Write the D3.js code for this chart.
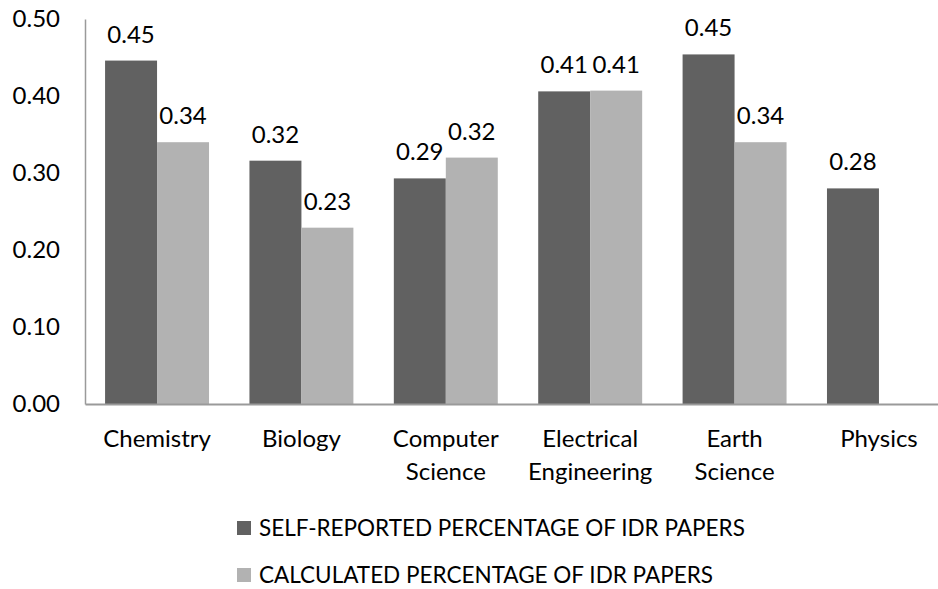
<!DOCTYPE html>
<html>
  <head>
    <meta charset="utf-8">
    <title>IDR papers by field</title>
    <script type="text/javascript" src="https://cdn.jsdelivr.net/npm/d3@7"></script>
    <style>
      body { margin: 0; background: #fff; }
      text { font-family: Lato, "Open Sans", sans-serif; fill: #000; }
    </style>
  </head>
  <body>
    <script type="text/javascript">
     // data
     let categories = ["Chemistry", "Biology", "Computer Science", "Electrical Engineering", "Earth Science", "Physics"];
     let seriesNames = ["SELF-REPORTED PERCENTAGE OF IDR PAPERS", "CALCULATED PERCENTAGE OF IDR PAPERS"];
     let selfReported = [0.446, 0.316, 0.293, 0.406, 0.454, 0.280];
     let calculated = [0.340, 0.229, 0.320, 0.407, 0.340, null];
     let yTicks = [0, 0.1, 0.2, 0.3, 0.4, 0.5];
     let colors = ["#616161", "#b2b2b2"];

     // set the canvas
     let w = 938;
     let h = 589;
     let margin = {top: 19, left: 85, bottom: 404, right: 951};

     let svg = d3.select("body").append("svg")
		 .attr("width", w)
		 .attr("height", h)
		 .style("display", "block");

     // table built from the arrays
     let rows = categories.map((c, i) => {
       return {cat: c, vals: [selfReported[i], calculated[i]]};
     });

     // scales
     let x0 = d3.scaleBand()
		.domain(categories)
		.range([margin.left, margin.right])
		.paddingInner(0.28)
		.paddingOuter(0.139);
     let x1 = d3.scaleBand()
		.domain([0, 1])
		.range([0, x0.bandwidth()]);
     let y = d3.scaleLinear()
	       .domain([0, 0.5])
	       .range([margin.bottom, margin.top]);

     let fmt = d3.format(".2f");

     // bars
     let groups = svg.selectAll("g.group")
		     .data(rows)
		     .enter()
		     .append("g")
		     .attr("class", "group")
		     .attr("transform", (d) => {return "translate(" + x0(d.cat) + ",0)";});

     let cells = groups.selectAll("g.cell")
		       .data((d) => {return d.vals.map((v, k) => {return {k: k, v: v};}).filter((e) => {return e.v != null;});})
		       .enter()
		       .append("g")
		       .attr("class", "cell");

     cells.append("rect")
	  .attr("x", (d) => {return x1(d.k);})
	  .attr("y", (d) => {return y(d.v);})
	  .attr("width", x1.bandwidth())
	  .attr("height", (d) => {return y(0) - y(d.v);})
	  .attr("fill", (d) => {return colors[d.k];});

     // value labels
     cells.append("text")
	  .attr("x", (d) => {return x1(d.k) + x1.bandwidth() / 2;})
	  .attr("y", (d) => {return y(d.v) - 18;})
	  .attr("text-anchor", "middle")
	  .style("font-size", "24px")
	  .text((d) => {return fmt(d.v);});

     // axes
     let yAxis = d3.axisLeft(y)
		   .tickValues(yTicks)
		   .tickSize(0)
		   .tickPadding(25)
		   .tickFormat(fmt);
     let gy = svg.append("g")
		 .attr("transform", "translate(" + margin.left + ",0)")
		 .call(yAxis);
     gy.select(".domain").attr("stroke", "#9a9a9a").attr("stroke-width", 1.5);
     gy.selectAll(".tick text").style("font-size", "24px").attr("fill", "#000");

     let xAxis = d3.axisBottom(x0)
		   .tickSize(0)
		   .tickSizeOuter(0)
		   .tickFormat("");
     let gx = svg.append("g")
		 .attr("transform", "translate(0," + margin.bottom + ")")
		 .call(xAxis);
     gx.select(".domain").attr("stroke", "#9a9a9a").attr("stroke-width", 2);

     // wrapped category labels
     gx.selectAll(".tick").each(function (d) {
       let words = d.split(" ");
       let t = d3.select(this).append("text")
		 .attr("text-anchor", "middle")
		 .attr("y", 43)
		 .style("font-size", "24px")
		 .attr("fill", "#000");
       words.forEach((wd, i) => {
	 t.append("tspan")
	  .attr("x", 0)
	  .attr("dy", i === 0 ? 0 : 33)
	  .text(wd);
       });
     });

     // legend
     let legend = svg.selectAll("g.legend")
		     .data(seriesNames)
		     .enter()
		     .append("g")
		     .attr("class", "legend")
		     .attr("transform", (d, i) => {return "translate(237," + (521 + i * 47) + ")";});
     legend.append("rect")
	   .attr("width", 14)
	   .attr("height", 14)
	   .attr("fill", (d, i) => {return colors[i];});
     legend.append("text")
	   .attr("x", 22)
	   .attr("y", 7)
	   .attr("dy", "0.35em")
	   .style("font-size", "22.5px")
	   .text((d) => {return d;});
    </script>
  </body>
</html>
